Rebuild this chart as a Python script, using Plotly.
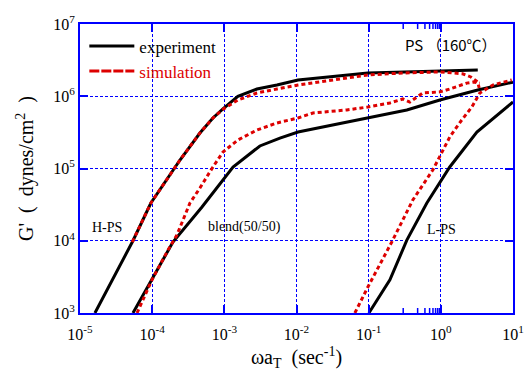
import math
import plotly.graph_objects as go

# ---- data (omega*aT [1/s], G' [dynes/cm^2]) ----
hps_exp_x = [1.61e-5, 5.42e-5, 9.6e-5, 2.43e-4, 4.59e-4, 6.95e-4, 9.57e-4, 1.54e-3, 2.83e-3, 5.36e-3, 1.05e-2, 9.75e-2, 1.0, 3.25]
hps_exp_y = [1.0e3, 1.0e4, 3.33e4, 1.31e5, 3.1e5, 5.0e5, 6.67e5, 1.0e6, 1.26e6, 1.43e6, 1.68e6, 2.1e6, 2.24e6, 2.31e6]

hps_sim_x = [5.3e-5, 9.6e-5, 2.43e-4, 4.59e-4, 6.95e-4, 9.57e-4, 1.54e-3, 2.83e-3, 5.36e-3, 1.05e-2, 9.75e-2, 0.30, 0.968, 2.0, 2.6, 3.25, 3.4]
hps_sim_y = [9.6e3, 3.33e4, 1.31e5, 3.1e5, 5.0e5, 6.6e5, 8.87e5, 1.11e6, 1.26e6, 1.43e6, 1.97e6, 2.1e6, 2.17e6, 2.05e6, 1.85e6, 1.57e6, 1.30e6]

blend_exp_x = [5.42e-5, 9.93e-5, 1.94e-4, 4.9e-4, 7.41e-4, 1.32e-3, 3.11e-3, 5.89e-3, 1.05e-2, 9.75e-2, 0.338, 0.969, 3.25, 10.0]
blend_exp_y = [1.0e3, 2.87e3, 9.6e3, 2.93e4, 5.03e4, 1.05e5, 2.05e5, 2.64e5, 3.2e5, 5.0e5, 6.46e5, 8.87e5, 1.22e6, 1.57e6]

blend_sim_x = [6.17e-5, 9.93e-5, 1.66e-4, 2.2e-4, 3.34e-4, 4.59e-4, 6.95e-4, 9.57e-4, 1.54e-3, 2.83e-3, 5.36e-3, 1.05e-2, 1.69e-2, 4.99e-2, 9.75e-2, 0.197, 0.298, 0.372, 0.564, 0.969, 1.33, 1.83, 2.29, 2.78, 3.47]
blend_sim_y = [1.0e3, 2.87e3, 7.45e3, 1.2e4, 3.33e4, 5.37e4, 1.05e5, 1.69e5, 2.48e5, 3.41e5, 4.27e5, 5.0e5, 5.86e5, 6.46e5, 7.1e5, 8.07e5, 9.17e5, 8.32e5, 1.11e6, 1.15e6, 1.26e6, 1.39e6, 1.52e6, 1.57e6, 1.52e6]

lps_exp_x = [0.1007, 0.197, 0.338, 0.64, 1.33, 3.16, 10.0]
lps_exp_y = [1.0e3, 2.87e3, 1.02e4, 3.33e4, 1.05e5, 3.2e5, 8.32e5]

lps_sim_x = [0.0644, 0.0975, 0.209, 0.409, 0.774, 1.33, 1.95, 2.69, 3.47, 5.25, 9.6]
lps_sim_y = [1.0e3, 2.29e3, 9.6e3, 3.66e4, 9.53e4, 2.73e5, 4.69e5, 7.1e5, 1.11e6, 1.43e6, 1.68e6]

x_tickvals = [1e-5, 1e-4, 1e-3, 1e-2, 1e-1, 1e0, 1e1]
x_ticktext = ["10<sup>-5</sup>", "10<sup>-4</sup>", "10<sup>-3</sup>", "10<sup>-2</sup>", "10<sup>-1</sup>", "10<sup>0</sup>", "10<sup>1</sup>"]
y_tickvals = [1e3, 1e4, 1e5, 1e6, 1e7]
y_ticktext = ["10<sup>3</sup>", "10<sup>4</sup>", "10<sup>5</sup>", "10<sup>6</sup>", "10<sup>7</sup>"]

# minor tick positions (2..9 x each decade)
x_minor = [m * 10.0 ** e for e in range(-5, 1) for m in range(2, 10)]
y_minor = [m * 10.0 ** e for e in range(3, 7) for m in range(2, 10)]

BLACK = "#000000"
RED = "#dd0000"
BLUE = "#0000ff"
SERIF = "Liberation Serif, Times New Roman, serif"

fig = go.Figure()

for xs, ys in [(hps_exp_x, hps_exp_y), (blend_exp_x, blend_exp_y), (lps_exp_x, lps_exp_y)]:
    fig.add_trace(go.Scatter(x=xs, y=ys, mode="lines", showlegend=False,
                             line=dict(color=BLACK, width=3)))
for xs, ys in [(hps_sim_x, hps_sim_y), (blend_sim_x, blend_sim_y), (lps_sim_x, lps_sim_y)]:
    fig.add_trace(go.Scatter(x=xs, y=ys, mode="lines", showlegend=False,
                             line=dict(color=RED, width=3, dash="4px,3px")))

# legend entries
fig.add_trace(go.Scatter(x=[None], y=[None], mode="lines", name="experiment",
                         line=dict(color=BLACK, width=3)))
fig.add_trace(go.Scatter(x=[None], y=[None], mode="lines",
                         name="<span style='color:#dd0000'>simulation</span>",
                         line=dict(color=RED, width=3, dash="10px,2px")))

axis_common = dict(
    type="log", showline=True, linecolor=BLUE, linewidth=2, mirror="ticks",
    ticks="inside", ticklen=8, tickcolor=BLUE, tickwidth=1.5,
    showgrid=True, gridcolor=BLUE, gridwidth=1, griddash="3px,2px",
    zeroline=False, automargin=False,
    tickfont=dict(family=SERIF, size=16, color="#000000"),
)

fig.update_xaxes(range=[-5, 1], tickvals=x_tickvals, ticktext=x_ticktext, ticklabelstandoff=6,
                 title=dict(text="ωa<sub>T</sub>  (sec<sup>-1</sup>)", font=dict(family=SERIF, size=20, color="#000"), standoff=8),
                 **axis_common)
fig.update_yaxes(range=[3, 7], tickvals=y_tickvals, ticktext=y_ticktext,
                 title=dict(text="G'  (  dynes/cm<sup>2</sup>  )", font=dict(family=SERIF, size=20, color="#000"), standoff=14),
                 **axis_common)

# minor ticks as short axis-attached segments (shape coords on log axes are log10 values)
TL_X = 5 / 289.0
TL_Y = 5 / 433.0
for v in x_minor:
    lv = math.log10(v)
    fig.add_shape(type="line", xref="x", yref="y domain", x0=lv, x1=lv, y0=0, y1=TL_X,
                  line=dict(color=BLUE, width=1.5), layer="above")
    fig.add_shape(type="line", xref="x", yref="y domain", x0=lv, x1=lv, y0=1 - TL_X, y1=1,
                  line=dict(color=BLUE, width=1.5), layer="above")
for v in y_minor:
    lv = math.log10(v)
    fig.add_shape(type="line", xref="x domain", yref="y", x0=0, x1=TL_Y, y0=lv, y1=lv,
                  line=dict(color=BLUE, width=1.5), layer="above")
    fig.add_shape(type="line", xref="x domain", yref="y", x0=1 - TL_Y, x1=1, y0=lv, y1=lv,
                  line=dict(color=BLUE, width=1.5), layer="above")

fig.add_annotation(x=0.145, y=6.71, xref="x", yref="y", text="PS （160℃）", showarrow=False,
                   font=dict(family="Noto Sans CJK JP, sans-serif", size=15, color="#000"))
fig.add_annotation(x=-4.62, y=4.19, xref="x", yref="y", text="H-PS", showarrow=False,
                   font=dict(family=SERIF, size=14, color="#000"))
fig.add_annotation(x=-2.715, y=4.19, xref="x", yref="y", text="blend(50/50)", showarrow=False,
                   font=dict(family=SERIF, size=14, color="#000"))
fig.add_annotation(x=0.01, y=4.15, xref="x", yref="y", text="L-PS", showarrow=False,
                   font=dict(family=SERIF, size=14, color="#000"))

fig.update_layout(
    width=525, height=379,
    margin=dict(l=80, r=12, t=24, b=66, autoexpand=False),
    paper_bgcolor="white", plot_bgcolor="white",
    showlegend=True,
    legend=dict(x=0.01, y=0.985, xanchor="left", yanchor="top", bgcolor="rgba(0,0,0,0)",
                font=dict(family=SERIF, size=17, color="#000"), itemwidth=45, tracegroupgap=0),
)

fig.write_html("out.html", config={"displayModeBar": False},
               post_script="document.body.style.margin='0';")
